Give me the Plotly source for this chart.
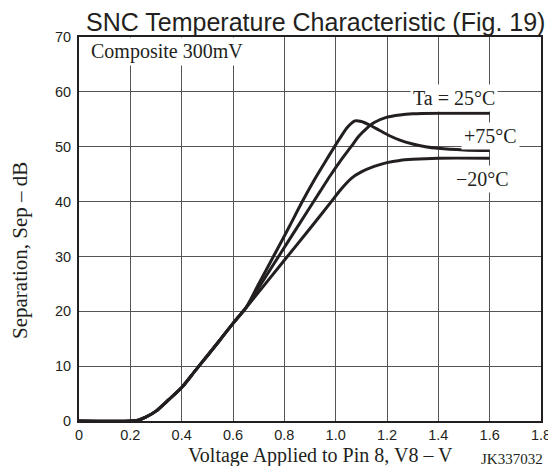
import plotly.graph_objects as go

# Shared rising section (all three temperatures coincide below ~0.65 V)
common_v = [0.0, 0.2, 0.23, 0.26, 0.3, 0.35, 0.4, 0.45, 0.5, 0.55, 0.6, 0.65]
common_db = [0.0, 0.0, 0.15, 0.7, 1.8, 3.9, 6.1, 9.0, 11.9, 14.8, 17.8, 20.6]

# Ta = +75 degC: overshoots to a peak near 1.07 V then settles
t75_v = [0.7, 0.76, 0.82, 0.87, 0.92, 0.96, 0.99, 1.02, 1.045, 1.075, 1.1, 1.13,
         1.17, 1.21, 1.25, 1.3, 1.35, 1.4, 1.5, 1.6]
t75_db = [25.0, 30.2, 35.5, 40.0, 44.2, 47.3, 49.6, 51.8, 53.5, 54.7, 54.6, 54.0,
          53.0, 52.0, 51.2, 50.5, 50.0, 49.7, 49.4, 49.3]

# Ta = 25 degC
t25_v = [0.7, 0.76, 0.82, 0.88, 0.94, 0.98, 1.02, 1.06, 1.09, 1.12, 1.15, 1.2,
         1.25, 1.3, 1.4, 1.6]
t25_db = [24.3, 28.7, 33.1, 37.5, 41.9, 44.8, 47.5, 50.0, 51.9, 53.3, 54.4, 55.4,
          55.8, 56.0, 56.1, 56.1]

# Ta = -20 degC
tm20_v = [0.7, 0.8, 0.9, 0.98, 1.02, 1.06, 1.1, 1.15, 1.2, 1.25, 1.3, 1.4, 1.6]
tm20_db = [23.5, 29.3, 35.1, 39.8, 42.2, 44.2, 45.4, 46.4, 47.1, 47.5, 47.7, 47.9, 47.9]

x_ticks = [0, 0.2, 0.4, 0.6, 0.8, 1.0, 1.2, 1.4, 1.6, 1.8]
x_tick_text = ["0", "0.2", "0.4", "0.6", "0.8", "1.0", "1.2", "1.4", "1.6", "1.8"]
y_ticks = [0, 10, 20, 30, 40, 50, 60, 70]

INK = "#231f20"
SERIF = "Liberation Serif"
SANS = "Liberation Sans"

fig = go.Figure()
for vs, dbs in [(t75_v, t75_db), (t25_v, t25_db), (tm20_v, tm20_db)]:
    fig.add_trace(go.Scatter(
        x=common_v + vs, y=common_db + dbs, mode="lines",
        line=dict(color=INK, width=3, shape="spline", smoothing=0.7),
        showlegend=False, hoverinfo="skip",
    ))

axis_common = dict(
    showgrid=True, gridcolor="#555555", gridwidth=1.3,
    showline=True, linecolor=INK, linewidth=2, mirror=True,
    ticks="", zeroline=False, ticklabeloverflow="allow", automargin=False,
    tickfont=dict(family=SANS, size=14.5, color=INK),
)

fig.update_layout(
    width=548, height=466,
    margin=dict(l=79, r=7, t=37, b=45),
    paper_bgcolor="white", plot_bgcolor="white",
    xaxis=dict(range=[0, 1.8], tickvals=x_ticks, ticktext=x_tick_text, **axis_common),
    yaxis=dict(range=[0, 70], tickvals=y_ticks, ticklabelstandoff=3, **axis_common),
)

labels = [
    dict(x=0.035, y=67.3, text="Composite 300mV", xanchor="left"),
    dict(x=1.461, y=58.9, text="Ta = 25°C", xanchor="center"),
    dict(x=1.605, y=52.0, text="+75°C", xanchor="center"),
    dict(x=1.574, y=44.1, text="\u221220°C", xanchor="center"),
]
for lab in labels:
    fig.add_annotation(
        x=lab["x"], y=lab["y"], xref="x", yref="y", text=lab["text"],
        xanchor=lab["xanchor"], yanchor="middle", showarrow=False,
        font=dict(family=SERIF, size=20, color=INK),
        bgcolor="white", borderpad=2,
    )

# Title and axis captions
fig.add_annotation(x=0.511, y=1.039, xref="paper", yref="paper",
                   text="SNC Temperature Characteristic (Fig. 19)", showarrow=False,
                   xanchor="center", yanchor="middle",
                   font=dict(family=SANS, size=25, color=INK))
fig.add_annotation(x=0.522, y=-0.09, xref="paper", yref="paper",
                   text="Voltage Applied to Pin 8, V8 \u2013 V", showarrow=False,
                   xanchor="center", yanchor="middle",
                   font=dict(family=SERIF, size=20, color=INK))
fig.add_annotation(x=-0.128, y=0.445, xref="paper", yref="paper",
                   text="Separation, Sep \u2013 dB", showarrow=False, textangle=-90,
                   xanchor="center", yanchor="middle",
                   font=dict(family=SERIF, size=21, color=INK))
fig.add_annotation(x=0.937, y=-0.1, xref="paper", yref="paper",
                   text="JK337032", showarrow=False,
                   xanchor="center", yanchor="middle",
                   font=dict(family=SERIF, size=15, color=INK))

fig.write_html("out.html")
